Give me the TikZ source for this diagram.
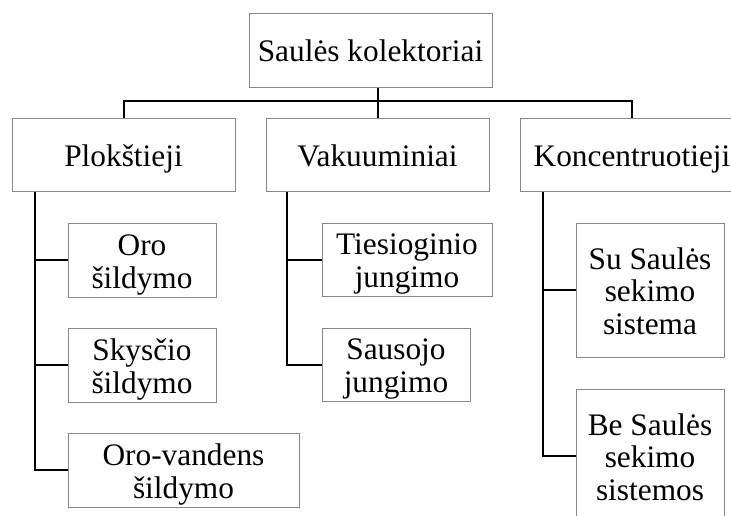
\documentclass[tikz,border=0pt]{standalone}
\usepackage{fontspec}
\setmainfont{Liberation Serif}
\definecolor{boxgray}{RGB}{136,136,136}
\begin{document}
\begin{tikzpicture}[x=0.75pt,y=-0.75pt,
  box/.style={draw=boxgray, line width=0.75pt, fill=white, align=center,
    inner sep=0pt, font=\fontsize{23.5}{24.5}\selectfont,
    text height=17.5pt, text depth=0pt},
  two/.style={text height=42pt},
  three/.style={text height=66.5pt},
  conn/.style={line width=1.5pt, black}]
\useasboundingbox (0,0) rectangle (731,515);
\clip (0,0) rectangle (731,515);
% boxes
\node[box, minimum width=182.25pt, minimum height=55.5pt] (top) at (370.5,50) {Saulės kolektoriai};
\node[box, minimum width=167.25pt, minimum height=54.75pt] (plok) at (123.5,154.5) {Plokštieji};
\node[box, minimum width=167.25pt, minimum height=54.75pt] (vak) at (377.5,154.5) {Vakuuminiai};
\node[box, minimum width=168pt, minimum height=54.75pt] (konc) at (632,154.5) {Koncentruotieji};
\node[box, two, minimum width=111pt, minimum height=55.5pt] (oro) at (142,260) {Oro\\šildymo};
\node[box, two, minimum width=111pt, minimum height=55.5pt] (sky) at (142,365) {Skysčio\\šildymo};
\node[box, two, minimum width=173.25pt, minimum height=55.5pt] (orov) at (183.5,470) {Oro-vandens\\šildymo};
\node[box, two, minimum width=127.5pt, minimum height=54.75pt] (ties) at (407,259.5) {Tiesioginio\\jungimo};
\node[box, two, minimum width=111pt, minimum height=54.75pt] (saus) at (396,364.5) {Sausojo\\jungimo};
\node[box, three, minimum width=111pt, minimum height=100.5pt] (su) at (650,290) {Su Saulės\\sekimo\\sistema};
\node[box, three, minimum width=111pt, minimum height=100.5pt] (be) at (650,456) {Be Saulės\\sekimo\\sistemos};
% helper coordinates
\coordinate (bar) at (0,101);
\coordinate (pl) at (35,0);
\coordinate (vl) at (287,0);
\coordinate (kl) at (543,0);
% connectors
\draw[conn] (top.south -| vak.north) -- (vak.north);
\draw[conn] (plok.north) -- (plok.north |- bar) -- (konc.north |- bar) -- (konc.north);
\draw[conn] (plok.south -| pl) |- (orov.west);
\draw[conn] (oro.west -| pl) -- (oro.west);
\draw[conn] (sky.west -| pl) -- (sky.west);
\draw[conn] (vak.south -| vl) |- (saus.west);
\draw[conn] (ties.west -| vl) -- (ties.west);
\draw[conn] (konc.south -| kl) |- (be.west);
\draw[conn] (su.west -| kl) -- (su.west);
\end{tikzpicture}
\end{document}
